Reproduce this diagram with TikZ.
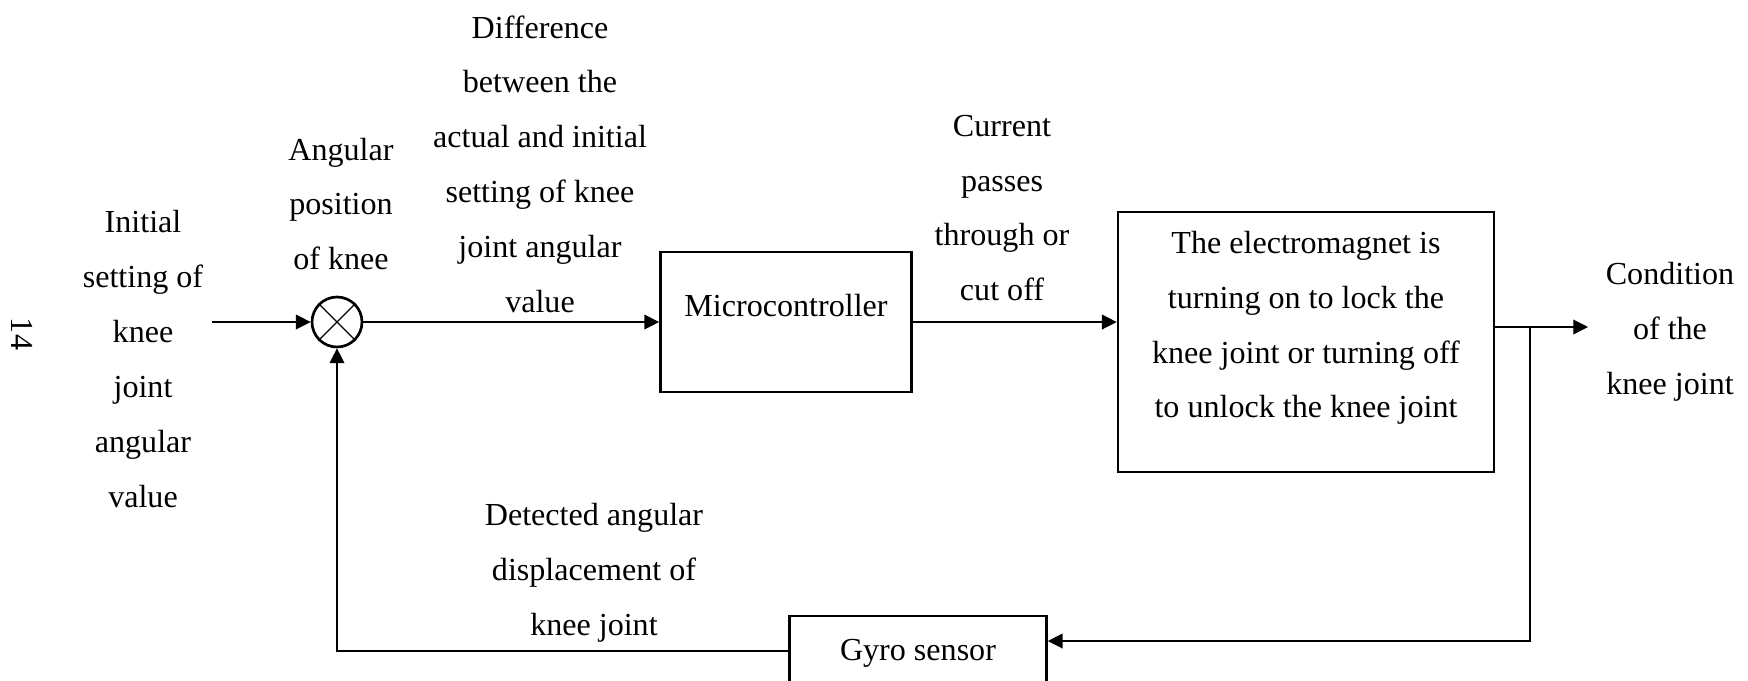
\documentclass[tikz,border=0pt]{standalone}
\usepackage{fontspec}
\setmainfont{Liberation Serif}
\usetikzlibrary{arrows.meta}

\begin{document}
\begin{tikzpicture}[x=0.374pt,y=-0.374pt,
  every node/.style={font=\fontsize{12}{20.5}\selectfont,align=center,inner sep=0pt},
  blk/.style={draw,line width=1pt},
  sig/.style={line width=0.45pt},
  arr/.style={sig,-{Triangle[length=5.5pt,width=5.5pt]}}]
\clip (0,0) rectangle (1748,680);
% \draw[help lines,step=100] (0,0) grid (1748,680);
\node (pg) [rotate=-90] at (22,334) {14};
\node (in) at (143,359) {Initial\\setting of\\knee\\joint\\angular\\value};
\node (pos) at (341,204) {Angular\\position\\of knee};
\node (diff) at (540,164) {Difference\\between the\\actual and initial\\setting of knee\\joint angular\\value};
\node (cur) at (1002,208) {Current\\passes\\through or\\cut off};
\node (out) at (1670,332) {Condition\\of the\\knee joint};
\node (det) at (594,573) {Detected angular\\displacement of\\knee joint};
%
\node (sum) [circle,blk,minimum size=18.7pt] at (337,322) {};
\draw[sig] (sum.north west) -- (sum.south east);
\draw[sig] (sum.north east) -- (sum.south west);
\node (mcu) [blk,minimum width=93.9pt,minimum height=52.4pt] at (786,322) {};
\node (mcut) at (786,306) {Microcontroller};
\node (mag) [blk,minimum width=140.6pt,minimum height=97.2pt] at (1306,342) {};
\node (magt) at (1306,328) {The electromagnet is\\turning on to lock the\\knee joint or turning off\\to unlock the knee joint};
\node (gyro) [blk,minimum width=96.1pt,minimum height=26.2pt] at (918,651) {};
\node (gyrot) at (918,653) {Gyro sensor};
%
\coordinate (i0) at (212,322);
\coordinate (o1) at (1588,327);
\coordinate (br) at (1530,327);
\coordinate (bd) at (1530,641);
\draw[arr] (i0) -- (sum.west);
\draw[arr] (sum.east) -- (mcu.west |- sum.east);
\draw[arr] (mcu.east |- sum.east) -- (mag.west |- sum.east);
\draw[arr] (mag.east |- o1) -- (o1);
\draw[arr] (br) -- (bd) -- (gyro.east |- bd);
\draw[arr] (gyro.west) -| (sum.south);
\end{tikzpicture}
\end{document}
